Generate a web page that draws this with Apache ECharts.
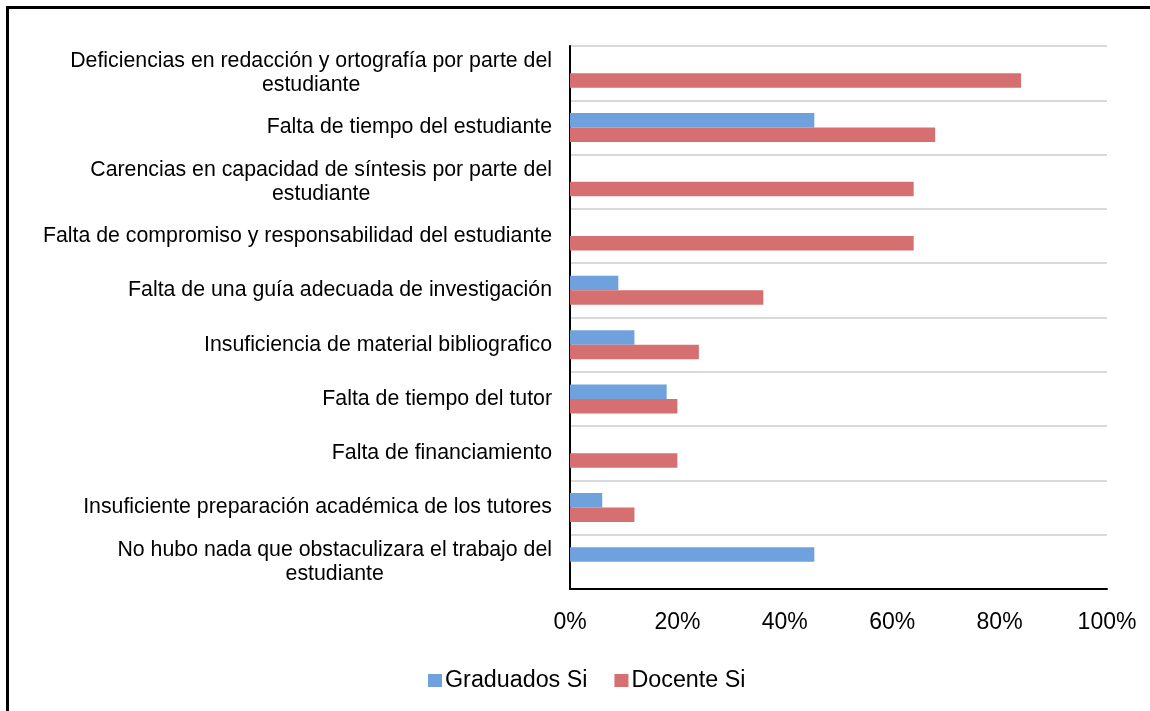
<!DOCTYPE html>
<html>
<head>
<meta charset="utf-8">
<script src="https://cdn.jsdelivr.net/npm/echarts@6/dist/echarts.min.js"></script>
<style>
html,body{margin:0;padding:0;background:#fff;}
#chart{width:1150px;height:711px;}
</style>
</head>
<body>
<div id="chart"></div>
<script>
const categories = [
  'Deficiencias en redacción y ortografía por parte del\nestudiante',
  'Falta de tiempo del estudiante',
  'Carencias en capacidad de síntesis por parte del\nestudiante',
  'Falta de compromiso y responsabilidad del estudiante',
  'Falta de una guía adecuada de investigación',
  'Insuficiencia de material bibliografico',
  'Falta de tiempo del tutor',
  'Falta de financiamiento',
  'Insuficiente preparación académica de los tutores',
  'No hubo nada que obstaculizara el trabajo del\nestudiante'
];
const seriesNames = ['Graduados Si', 'Docente Si'];
const graduados = [0, 45.5, 0, 0, 9, 12, 18, 0, 6, 45.5];
const docente = [84, 68, 64, 64, 36, 24, 20, 20, 12, 0];
const xTicks = [0, 20, 40, 60, 80, 100];

const FONT = '"Liberation Sans", Arial, sans-serif';
const chart = echarts.init(document.getElementById('chart'), null, {renderer: 'canvas'});
chart.setOption({
  backgroundColor: '#fff',
  animation: false,
  graphic: [{
    type: 'rect',
    shape: {x: 7.5, y: 7.5, width: 1300, height: 900},
    style: {fill: 'none', stroke: '#000', lineWidth: 3},
    silent: true
  }],
  grid: {left: 570, right: 43, top: 46, bottom: 122, containLabel: false},
  legend: {
    data: seriesNames,
    left: 423, top: 664,
    itemWidth: 14, itemHeight: 13, itemGap: 27,
    icon: 'rect',
    textStyle: {fontSize: 23.3, color: '#000', fontFamily: FONT, padding: [0, 0, 0, -2]}
  },
  xAxis: {
    type: 'value',
    min: xTicks[0], max: xTicks[xTicks.length - 1], interval: 20,
    axisLine: {show: true, lineStyle: {color: '#000', width: 2}},
    axisTick: {show: false},
    splitLine: {show: false},
    axisLabel: {formatter: '{value}%', fontSize: 23, color: '#000', fontFamily: FONT, margin: 22}
  },
  yAxis: {
    type: 'category',
    inverse: true,
    data: categories,
    axisLine: {show: true, lineStyle: {color: '#000', width: 2}},
    axisTick: {show: false},
    splitLine: {show: true, lineStyle: {color: '#d9d9d9', width: 2}},
    axisLabel: {
      interval: 0,
      margin: 18,
      color: '#000',
      fontSize: 21.3,
      fontFamily: FONT,
      formatter: v => v.split('\n').map(l => '{c|' + l + '}').join('\n'),
      rich: {c: {align: 'center', fontSize: 21.3, lineHeight: 24, color: '#000', fontFamily: FONT}}
    }
  },
  series: [
    {name: seriesNames[0], type: 'bar', data: graduados, barWidth: 14.5, barGap: '0%',
     itemStyle: {color: '#6fa1dc'}},
    {name: seriesNames[1], type: 'bar', data: docente, barWidth: 14.5, barGap: '0%',
     itemStyle: {color: '#d66f6f'}}
  ]
});
</script>
</body>
</html>
